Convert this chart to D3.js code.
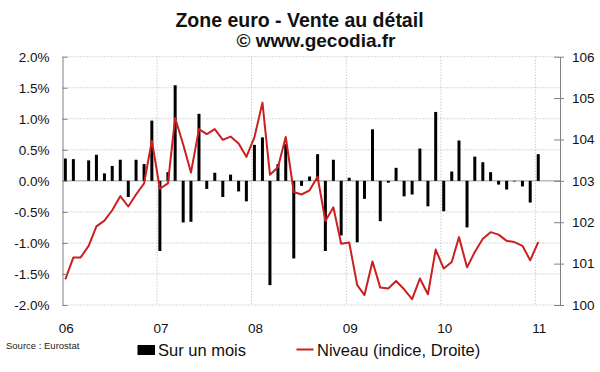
<!DOCTYPE html>
<html>
<head>
<meta charset="utf-8">
<script src="https://cdn.jsdelivr.net/npm/d3@7"></script>
<style>
html,body{margin:0;padding:0;background:#fff;}
svg{display:block;font-family:"Liberation Sans",Arial,sans-serif;}
</style>
</head>
<body>
<svg id="chart" width="600" height="372"></svg>
<script>
// ---- DATA ----
const startYear = 2006;
// monthly change (%), Jan 2006 .. Jan 2011 (left axis)
const monthlyChange = [
  0.36, 0.35, 0.00, 0.33, 0.42, 0.12, 0.24, 0.34, -0.26, 0.34, 0.27, 0.97,
  -1.13, 0.14, 1.54, -0.67, -0.66, 1.08, -0.13, 0.13, -0.26, 0.10, -0.17, -0.33,
  0.58, 0.70, -1.68, 0.27, 0.59, -1.25, -0.08, 0.07, 0.43, -1.13, 0.34, -0.88,
  0.05, -0.99, -0.29, 0.83, -0.65, -0.03, 0.21, -0.25, -0.22, 0.52, -0.41, 1.11,
  -0.49, 0.15, 0.65, -0.75, 0.39, 0.30, 0.14, -0.06, -0.14, -0.01, -0.09, -0.35,
  0.43
];
// index level (right axis)
const indexLevel = [
  100.62, 101.15, 101.15, 101.43, 101.90, 102.04, 102.29, 102.63, 102.38, 102.67, 102.94, 103.97,
  102.81, 102.94, 104.52, 103.88, 103.20, 104.25, 104.13, 104.25, 103.99, 104.07, 103.90, 103.58,
  104.05, 104.89, 103.15, 103.33, 104.06, 102.73, 102.67, 102.77, 103.10, 102.03, 102.36, 101.48,
  101.51, 100.48, 100.24, 101.05, 100.42, 100.40, 100.58, 100.38, 100.14, 100.64, 100.26, 101.34,
  100.88, 101.04, 101.64, 100.91, 101.28, 101.60, 101.76, 101.70, 101.55, 101.52, 101.43, 101.08,
  101.52
];
const leftTicks = [-2.0, -1.5, -1.0, -0.5, 0.0, 0.5, 1.0, 1.5, 2.0];
const rightTicks = [100, 101, 102, 103, 104, 105, 106];
const yearTicks = [2006, 2007, 2008, 2009, 2010, 2011];
const yearLabels = ["06", "07", "08", "09", "10", "11"];
const titleText = "Zone euro - Vente au détail";
const subtitleText = "© www.gecodia.fr";
const sourceText = "Source : Eurostat";
const legendBars = "Sur un mois";
const legendLine = "Niveau (indice, Droite)";

// ---- LAYOUT ----
const svg = d3.select("#chart");
const plotLeft = 62.5, plotRight = 560, plotTop = 56.7, plotBottom = 305;

const x = d3.scaleTime()
  .domain([new Date(2006, 0, 1), new Date(2011, 3, 6)])
  .range([plotLeft, plotRight]);
const yL = d3.scaleLinear().domain([-2, 2]).range([plotBottom, plotTop]);
const yR = d3.scaleLinear().domain([100, 106]).range([plotBottom, plotTop]);

const dates = monthlyChange.map((d, i) => new Date(startYear, i, 12));

const gridColor = "#b4b4b4";
const axisColor = "#808080";

// horizontal gridlines
svg.append("g").selectAll("line").data(leftTicks.filter(t => t !== 0))
  .join("line")
  .attr("x1", plotLeft).attr("x2", plotRight)
  .attr("y1", d => yL(d)).attr("y2", d => yL(d))
  .attr("stroke", gridColor).attr("stroke-width", 1)
  .attr("stroke-dasharray", "1,2");

// vertical gridlines
svg.append("g").selectAll("line").data(yearTicks.slice(1))
  .join("line")
  .attr("x1", d => x(new Date(d, 0, 1))).attr("x2", d => x(new Date(d, 0, 1)))
  .attr("y1", plotTop).attr("y2", plotBottom)
  .attr("stroke", gridColor).attr("stroke-width", 1)
  .attr("stroke-dasharray", "1,2");

// zero line
svg.append("line")
  .attr("x1", plotLeft).attr("x2", plotRight)
  .attr("y1", yL(0)).attr("y2", yL(0))
  .attr("stroke", "#999").attr("stroke-width", 1);

// bars
const barW = 3;
svg.append("g").selectAll("rect").data(monthlyChange)
  .join("rect")
  .attr("x", (d, i) => x(dates[i]) - barW / 2)
  .attr("width", barW)
  .attr("y", d => yL(Math.max(0, d)))
  .attr("height", d => Math.abs(yL(d) - yL(0)))
  .attr("fill", "#000");

// line
const line = d3.line()
  .x((d, i) => x(dates[i]))
  .y(d => yR(d));
svg.append("path")
  .datum(indexLevel)
  .attr("d", line)
  .attr("fill", "none")
  .attr("stroke", "#cc1f1f")
  .attr("stroke-width", 2)
  .attr("stroke-linejoin", "round");

// axes
const fmt = d => d.toFixed(1) + "%";
const axL = svg.append("g").attr("transform", `translate(${plotLeft},0)`)
  .call(d3.axisLeft(yL).tickValues(leftTicks).tickFormat(fmt).tickSize(5).tickSizeOuter(0).tickPadding(8));
axL.selectAll(".tick line").attr("x2", 5);
const axR = svg.append("g").attr("transform", `translate(${plotRight},0)`)
  .call(d3.axisRight(yR).tickValues(rightTicks).tickFormat(d3.format("d")).tickSize(4).tickSizeOuter(0).tickPadding(8));
axR.selectAll(".tick line").attr("x1", -6);
[axL, axR].forEach(a => {
  a.select(".domain").attr("stroke", axisColor);
  a.selectAll(".tick line").attr("stroke", axisColor);
  a.selectAll(".tick text").attr("fill", "#111").style("font-size", "13.5px")
    .style("font-family", '"Liberation Sans",Arial,sans-serif');
});

// x labels
svg.append("g").selectAll("text").data(yearTicks)
  .join("text")
  .attr("x", d => x(new Date(d, 0, 16)))
  .attr("y", 332.5)
  .attr("text-anchor", "middle")
  .style("font-size", "13.5px")
  .attr("fill", "#111")
  .text((d, i) => yearLabels[i]);

// titles
svg.append("text").attr("x", 299.5).attr("y", 26.5).attr("text-anchor", "middle")
  .style("font-size", "19.5px").style("font-weight", "bold").attr("fill", "#111").text(titleText);
svg.append("text").attr("x", 316).attr("y", 46.5).attr("text-anchor", "middle")
  .style("font-size", "19px").style("font-weight", "bold").attr("fill", "#111").text(subtitleText);

// source
svg.append("text").attr("x", 6).attr("y", 348.5)
  .style("font-size", "9.5px").attr("fill", "#222").text(sourceText);

// legend
svg.append("rect").attr("x", 137.5).attr("y", 345).attr("width", 17.5).attr("height", 10).attr("fill", "#000");
svg.append("text").attr("x", 158).attr("y", 355.5).style("font-size", "16.5px").attr("fill", "#111").text(legendBars);
svg.append("line").attr("x1", 296.5).attr("x2", 313.5).attr("y1", 349.5).attr("y2", 349.5)
  .attr("stroke", "#cc1f1f").attr("stroke-width", 2);
svg.append("text").attr("x", 317).attr("y", 355.5).style("font-size", "16.5px").attr("fill", "#111").text(legendLine);
</script>
</body>
</html>
